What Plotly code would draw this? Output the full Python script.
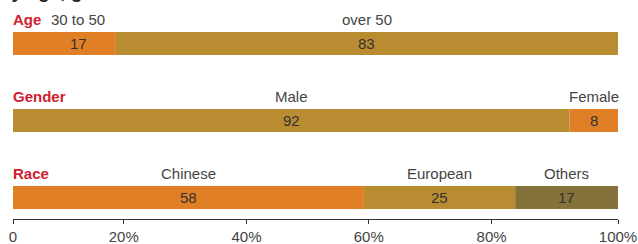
import plotly.graph_objects as go

# ---- data ----
groups = ["Age", "Gender", "Race"]
age_labels = ["30 to 50", "over 50"]
age_values = [17, 83]
gender_labels = ["Male", "Female"]
gender_values = [92, 8]
race_labels = ["Chinese", "European", "Others"]
race_values = [58, 25, 17]
# tick marks as they sit on the reference's axis
tick_values = [0, 18.3, 38.6, 58.8, 79.1, 100]
tick_labels = ["0", "20%", "40%", "60%", "80%", "100%"]

ORANGE = "#E07F26"
GOLD = "#B98C32"
OLIVE = "#85713A"
age_colors = [ORANGE, GOLD]
gender_colors = [GOLD, ORANGE]
race_colors = [ORANGE, GOLD, OLIVE]

FONT = "Liberation Sans, Arial, Helvetica, sans-serif"
TXT = "#333333"
RED = "#D0202E"

rows = [
    ("Age", age_labels, age_values, age_colors, 2),
    ("Gender", gender_labels, gender_values, gender_colors, 1),
    ("Race", race_labels, race_values, race_colors, 0),
]
BAR_W = 0.299

fig = go.Figure()
annotations = []
for gname, labels, values, colors, ypos in rows:
    cum = 0
    for i, (lab, val, col) in enumerate(zip(labels, values, colors)):
        fig.add_trace(go.Bar(
            x=[val], y=[ypos], base=[cum], orientation="h",
            marker=dict(color=col, line=dict(width=0)),
            width=BAR_W, showlegend=False, hoverinfo="skip",
        ))
        center = cum + val / 2
        xs = 14 if (gname == "Age" and i == 0) else 0
        annotations.append(dict(
            x=center, y=ypos, xref="x", yref="y", text=str(val),
            showarrow=False, xshift=xs,
            font=dict(family=FONT, size=15, color=TXT),
        ))
        annotations.append(dict(
            x=center, y=ypos + BAR_W / 2, xref="x", yref="y", text=lab,
            showarrow=False, xshift=xs, yanchor="bottom", yshift=2,
            font=dict(family=FONT, size=15, color="#444444"),
        ))
        cum += val
    annotations.append(dict(
        x=0, y=ypos + BAR_W / 2, xref="x", yref="y", text="<b>%s</b>" % gname,
        showarrow=False, xanchor="left", yanchor="bottom", yshift=2, xshift=-2,
        font=dict(family=FONT, size=15, color=RED),
    ))

# cut-off title line at the very top (only descenders visible, as in the reference)
annotations.append(dict(
    x=0, y=1, xref="paper", yref="paper", text="<b>by age, gender and race</b>",
    showarrow=False, xanchor="left", yanchor="bottom", xshift=-15, yshift=-4,
    font=dict(family=FONT, size=19, color="#222222"),
))

fig.update_layout(
    barmode="overlay",
    width=638, height=244,
    margin=dict(l=13, r=20, t=0, b=25),
    paper_bgcolor="white", plot_bgcolor="white",
    annotations=annotations,
    xaxis=dict(
        range=[0, 100], tickvals=tick_values, ticktext=tick_labels,
        showgrid=False, zeroline=False, showline=True, linecolor="#333333",
        linewidth=1, ticks="outside", ticklen=4, tickcolor="#333333",
        tickfont=dict(family=FONT, size=15, color="#444444"), fixedrange=True,
    ),
    yaxis=dict(
        range=[-0.279, 2.565], visible=False, fixedrange=True,
    ),
)

fig.write_html(
    "out.html",
    config={"displayModeBar": False, "staticPlot": True},
    post_script="document.body.style.margin='0';document.body.style.overflow='hidden';",
)
